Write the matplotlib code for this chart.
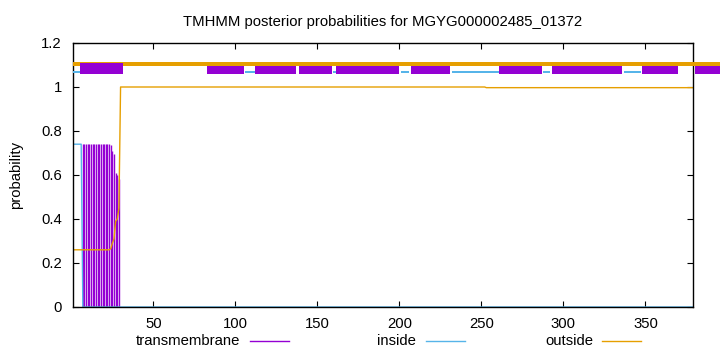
import matplotlib
matplotlib.use('Agg')
import matplotlib.pyplot as plt
from matplotlib.patches import Rectangle
from matplotlib.lines import Line2D

plt.rcParams['font.family'] = ['Liberation Sans', 'DejaVu Sans']

# 序列長度與後驗機率
seq_len = 379
positions = list(range(1, seq_len + 1))

# inside：前 6 個位置約 0.74，其後為 0
inside_prob = [0.74] * 6 + [0.0] * (seq_len - 6)

# outside：開頭約 0.26，30 之後約 1
outside_head = [0.26] * 23 + [0.265, 0.29, 0.31, 0.39, 0.40, 0.45]
outside_prob = outside_head + [1.0] * (252 - 29) + [0.997] * (seq_len - 252)

# transmembrane：位置 7~29
tm_head = [0.0] * 6 + [0.74] * 17 + [0.735, 0.71, 0.695, 0.61, 0.60, 0.58]
tm_prob = tm_head + [0.0] * (seq_len - len(tm_head))

# 上方拓撲區段（起點, 終點）
tm_segments = [(5.3, 31.3), (82.9, 105.3), (112, 137), (139, 159.2), (161.4, 200),
               (207.2, 231), (261, 286.8), (293.3, 335.9), (348.2, 369.8), (380.2, 400)]
inside_segments = [(1, 6.3), (105.9, 117), (159.4, 171), (201, 206), (232, 263.7),
                   (287.6, 291.9), (336.9, 347.1)]
outside_segments = [(1, 400)]

c_tm = '#9400d3'
c_in = '#56b4e9'
c_out = '#e69f00'
fs = 10.7

fig = plt.figure(figsize=(7.2, 3.52), dpi=100)
ax = fig.add_axes([73 / 720, 45 / 352, 620 / 720, 264 / 352])

# 繪製機率曲線
ax.vlines(positions, 0, tm_prob, color=c_tm, lw=1.0)
ax.plot(positions, inside_prob, color=c_in, lw=1.0)
ax.plot(positions, outside_prob, color=c_out, lw=1.0)

# 上方拓撲條
for a, b in inside_segments:
    ax.add_patch(Rectangle((a, 1.062), b - a, 0.011, color=c_in, lw=0, clip_on=False, zorder=3))
for i, (a, b) in enumerate(tm_segments):
    top = 1.108 if i == 0 else 1.096
    ax.add_patch(Rectangle((a, 1.061), b - a, top - 1.061, color=c_tm, lw=0,
                           clip_on=False, zorder=6 if i == 0 else 4))
for a, b in outside_segments:
    ax.add_patch(Rectangle((a, 1.0955), b - a, 0.018, color=c_out, lw=0, clip_on=False, zorder=5))

ax.set_xlim(1, seq_len)
ax.set_ylim(0, 1.2)
ax.set_xticks([50, 100, 150, 200, 250, 300, 350])
ax.set_yticks([0, 0.2, 0.4, 0.6, 0.8, 1.0, 1.2])
ax.set_yticklabels(['0', '0.2', '0.4', '0.6', '0.8', '1', '1.2'])
ax.tick_params(direction='in', top=True, right=True, length=4, labelsize=fs)
ax.tick_params(axis='x', pad=7)
ax.tick_params(axis='y', pad=8)
for s in ax.spines.values():
    s.set_linewidth(1.0)

ax.set_title('TMHMM posterior probabilities for MGYG000002485_01372', fontsize=fs, pad=12)
ax.set_ylabel('probability', fontsize=fs, labelpad=13)

# 圖例（底部）
legend_y = 1 - 341 / 352
items = [('transmembrane', c_tm, 240, 250, 289),
         ('inside', c_in, 416, 426, 465),
         ('outside', c_out, 593, 602, 641)]
for label, col, tx, x0, x1 in items:
    fig.text(tx / 720, legend_y, label, ha='right', va='center', fontsize=fs)
    fig.add_artist(Line2D([x0 / 720, x1 / 720], [legend_y, legend_y], color=col, lw=1.0))

fig.savefig('out.png', dpi=100)
